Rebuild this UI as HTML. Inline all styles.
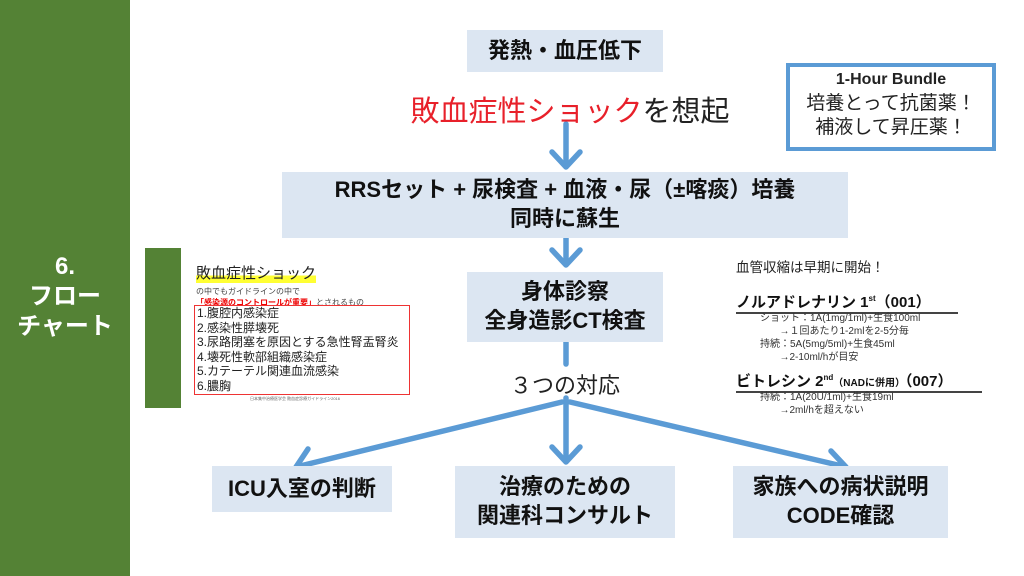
<!DOCTYPE html>
<html><head><meta charset="utf-8"><style>
body{margin:0;width:1024px;height:576px;background:#fff;position:relative;overflow:hidden;font-family:"Liberation Sans","Noto Sans CJK JP",sans-serif}
.a{position:absolute}
.bx{position:absolute;background:#dce6f2;display:flex;align-items:center;justify-content:center;text-align:center;font-weight:bold;color:#111;line-height:1.3}
</style></head><body>
<div class="a" style="left:0;top:0;width:130px;height:576px;background:#548235"></div>
<div class="a" style="left:0;top:252px;width:130px;text-align:center;color:#fff;font-weight:bold;font-size:24px;line-height:1.25">6.<br>フロー<br>チャート</div>

<svg class="a" style="left:0;top:0" width="1024" height="576">
<g stroke="#5b9bd5" stroke-width="5.5" fill="none" stroke-linecap="round" stroke-linejoin="round">
<line x1="566" y1="124" x2="566" y2="166"/><polyline points="552,152 566,167 580,152"/>
<line x1="566" y1="238" x2="566" y2="263"/><polyline points="552,250 566,265 580,250"/>
<line x1="566" y1="342" x2="566" y2="364"/>
<line x1="566" y1="398" x2="566" y2="460"/><polyline points="552,447 566,462 580,447"/>
<line x1="562" y1="402" x2="300" y2="466"/><polyline points="308,449 296,467 316,472"/>
<line x1="570" y1="402" x2="842" y2="466"/><polyline points="820,473 846,467 831,451"/>
</g></svg>

<div class="bx" style="left:467px;top:30px;width:196px;height:42px;font-size:22px">発熱・血圧低下</div>
<div class="a" style="left:400px;top:88px;width:340px;text-align:center;font-size:29px;color:#222"><span style="color:#e8202a">敗血症性ショック</span>を想起</div>
<div class="bx" style="left:282px;top:172px;width:566px;height:66px;font-size:22px">RRSセット + 尿検査 + 血液・尿（±喀痰）培養<br>同時に蘇生</div>
<div class="bx" style="left:467px;top:272px;width:196px;height:70px;font-size:22px">身体診察<br>全身造影CT検査</div>
<div class="a" style="left:480px;top:368px;width:170px;text-align:center;font-size:22px;color:#222">３つの対応</div>
<div class="bx" style="left:212px;top:466px;width:180px;height:46px;font-size:22px">ICU入室の判断</div>
<div class="bx" style="left:455px;top:466px;width:220px;height:72px;font-size:22px">治療のための<br>関連科コンサルト</div>
<div class="bx" style="left:733px;top:466px;width:215px;height:72px;font-size:22px">家族への病状説明<br>CODE確認</div>

<div class="a" style="left:786px;top:63px;width:202px;height:80px;border:4px solid #5b9bd5;background:#fff;text-align:center;font-size:19px;line-height:1.3;color:#222"><b style="font-size:16px">1-Hour Bundle</b><br>培養とって抗菌薬！<br>補液して昇圧薬！</div>

<div class="a" style="left:145px;top:248px;width:36px;height:160px;background:#548235"></div>
<div class="a" style="left:196px;top:262px;font-size:15px;color:#222;background:linear-gradient(transparent 65%,#ffff33 65%)">敗血症性ショック</div>
<div class="a" style="left:196px;top:286px;font-size:8px;color:#444;line-height:1.4">の中でもガイドラインの中で<br><span style="color:#e00;font-weight:bold">「感染源のコントロールが重要」</span>とされるもの</div>
<div class="a" style="left:194px;top:305px;width:212px;height:88px;border:1px solid #e33;font-size:12px;line-height:14.5px;color:#222;padding-left:2px">1.腹腔内感染症<br>2.感染性膵壊死<br>3.尿路閉塞を原因とする急性腎盂腎炎<br>4.壊死性軟部組織感染症<br>5.カテーテル関連血流感染<br>6.膿胸</div>
<div class="a" style="left:250px;top:396px;font-size:4px;color:#666">日本集中治療医学会 敗血症診療ガイドライン2016</div>

<div class="a" style="left:736px;top:256px;font-size:13.5px;color:#222">血管収縮は早期に開始！</div>
<div class="a" style="left:736px;top:291px;font-size:15px;font-weight:bold;color:#111;border-bottom:2px solid #444;width:222px">ノルアドレナリン 1<sup style="font-size:8px">st</sup>（001）</div>
<div class="a" style="left:760px;top:312px;font-size:10px;color:#333;line-height:13px">ショット：1A(1mg/1ml)+生食100ml<br>&nbsp;&nbsp;&nbsp;&nbsp;&nbsp;&nbsp;&nbsp;→１回あたり1-2mlを2-5分毎<br>持続：5A(5mg/5ml)+生食45ml<br>&nbsp;&nbsp;&nbsp;&nbsp;&nbsp;&nbsp;&nbsp;→2-10ml/hが目安</div>
<div class="a" style="left:736px;top:370px;font-size:15px;font-weight:bold;color:#111;border-bottom:2px solid #444;width:246px">ビトレシン 2<sup style="font-size:8px">nd</sup><span style="font-size:10px">（NADに併用）</span>（007）</div>
<div class="a" style="left:760px;top:391px;font-size:10px;color:#333;line-height:13px">持続：1A(20U/1ml)+生食19ml<br>&nbsp;&nbsp;&nbsp;&nbsp;&nbsp;&nbsp;&nbsp;→2ml/hを超えない</div>
</body></html>
